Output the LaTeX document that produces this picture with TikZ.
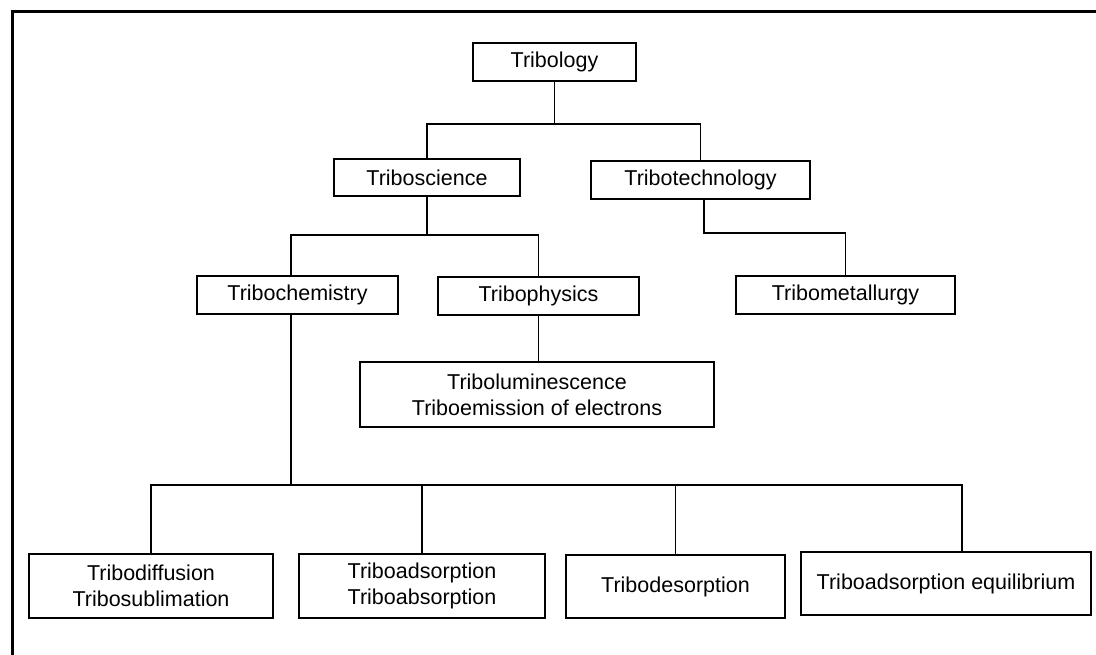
\documentclass[tikz,border=0pt]{standalone}
\usepackage{fontspec}
\setmainfont{Liberation Sans}
\begin{document}
\begin{tikzpicture}[x=1pt,y=-1pt,
    box/.style={draw,line width=1.8pt,inner sep=0pt,align=center,font=\fontsize{21.5}{26}\selectfont},
    link/.style={line width=1.3pt}]
    \useasboundingbox (0,0) rectangle (1096,655);
    \draw[line width=3pt] (12,655) -- (12,12) -- (1096,12);
    \node (tribology) [box,minimum width=163pt,minimum height=38pt] at (554.5,62) {Tribology};
    \node (triboscience) [box,minimum width=186pt,minimum height=37pt] at (427,177.5) {Triboscience};
    \node (tribotech) [box,minimum width=219pt,minimum height=38pt] at (700.5,180) {Tribotechnology};
    \node (tribochem) [box,minimum width=201pt,minimum height=38pt] at (297.5,295) {Tribochemistry};
    \node (tribophys) [box,minimum width=201pt,minimum height=38pt] at (538.5,296) {Tribophysics};
    \node (tribometal) [box,minimum width=219pt,minimum height=38pt] at (845.5,295) {Tribometallurgy};
    \node (trilum) [box,minimum width=354pt,minimum height=65pt] at (537,394.5) {Triboluminescence\\Triboemission of electrons};
    \node (diffusion) [box,minimum width=244pt,minimum height=64pt] at (151,586) {Tribodiffusion\\Tribosublimation};
    \node (adsorption) [box,minimum width=246pt,minimum height=64pt] at (422,586) {Triboadsorption\\Triboabsorption};
    \node (desorption) [box,minimum width=219pt,minimum height=63pt] at (675.5,586.5) {Tribodesorption};
    \node (equilibrium) [box,minimum width=290pt,minimum height=63pt] at (946,583.5) {Triboadsorption equilibrium};
    \draw[link] (tribology.south) -- ++(0,42) coordinate (j1);
    \draw[link] (triboscience.north) |- (j1) -| (tribotech.north);
    \draw[link] (triboscience.south) -- ++(0,38) coordinate (j2);
    \draw[link] ([xshift=-6.5pt]tribochem.north) |- (j2) -| (tribophys.north);
    \draw[link] ([xshift=3.5pt]tribotech.south) -- ++(0,33) -| (tribometal.north);
    \draw[link] (tribophys.south) -- (tribophys.south |- trilum.north);
    \draw[link] ([xshift=-6.5pt]tribochem.south) -- ++(0,170) coordinate (j3);
    \draw[link] (diffusion.north) |- (j3) -| ([xshift=16pt]equilibrium.north);
    \draw[link] (adsorption.north) -- (adsorption.north |- j3);
    \draw[link] (desorption.north) -- (desorption.north |- j3);
\end{tikzpicture}
\end{document}
